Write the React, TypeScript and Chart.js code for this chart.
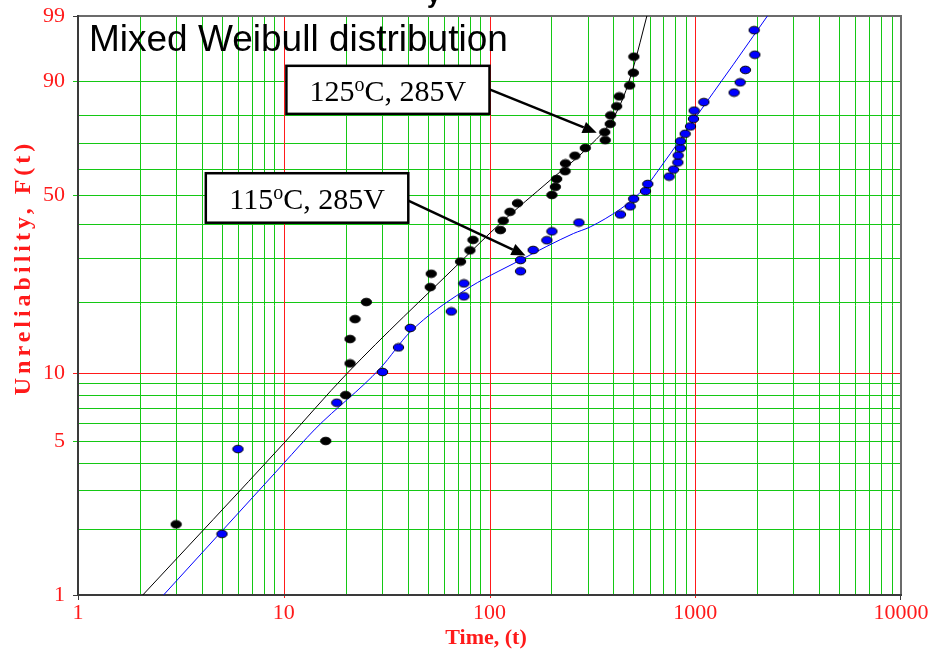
import React, { useEffect, useRef } from 'react';
import { Chart, registerables } from 'chart.js';

Chart.register(...registerables);

// ---------------- data ----------------
// 125°C, 285V – observed failures: time and unreliability (%)
const time125 = [3.0, 16.0, 20.0, 21.0, 21.0, 22.2, 25.2, 51.5, 52.1, 72.3, 80.3, 83.1, 113, 116.6, 125.7, 136.8, 201, 209, 212, 233, 234, 260, 292, 365, 363, 386, 388, 415, 427, 480, 500, 503];
const unrel125 = [2.1, 5.0, 8.0, 11.0, 14.0, 17.0, 20.0, 23.0, 26.0, 29.0, 32.0, 35.0, 38.0, 41.0, 44.0, 47.0, 50.0, 53.0, 56.0, 59.0, 62.0, 65.0, 68.0, 71.0, 74.0, 77.0, 80.0, 83.0, 86.0, 89.0, 92.0, 95.0];

// 115°C, 285V – observed failures
const time115 = [5.01, 5.99, 18.1, 30.2, 36.1, 41.2, 65.2, 75.1, 75.1, 141.5, 141.5, 163, 190, 201, 272, 433, 483, 502, 573, 588, 747, 784, 823, 826, 848, 848, 893, 948, 980, 988, 1101, 1545, 1653, 1753, 1948, 1933];
const unrel115 = [1.9, 4.6, 7.4, 10.1, 12.9, 15.6, 18.3, 21.1, 23.8, 26.6, 29.4, 32.1, 34.9, 37.6, 40.4, 43.1, 45.9, 48.6, 51.4, 54.1, 56.9, 59.6, 62.4, 65.1, 67.9, 70.6, 73.4, 76.1, 78.8, 81.6, 84.3, 87.1, 89.8, 92.6, 95.3, 98.1];

// fitted mixed-Weibull curves
const fitTime125 = [2.065, 10.0, 20.3, 72.0, 112.7, 197.2, 297.3, 393.3, 447.9, 500.8, 581.9];
const fitUnrel125 = [1.0, 4.88, 9.95, 28.84, 40.09, 55.51, 67.78, 78.3, 85.84, 93.17, 99.0];
const fitTime115 = [2.605, 10.0, 14.2, 29.4, 41.2, 74.7, 141.0, 256.0, 308.5, 431.7, 488.1, 583.9, 675.2, 844.6, 1010, 1222, 1528, 1911, 2243];
const fitUnrel115 = [1.0, 3.97, 5.65, 10.47, 15.02, 22.15, 29.36, 36.93, 38.99, 44.9, 47.91, 53.62, 60.32, 71.15, 79.51, 87.04, 93.59, 97.56, 99.0];

// axes
const xGridValues = [1, 2, 3, 4, 5, 6, 7, 8, 9, 10, 20, 30, 40, 50, 60, 70, 80, 90, 100, 200, 300, 400, 500, 600, 700, 800, 900, 1000, 2000, 3000, 4000, 5000, 6000, 7000, 8000, 9000, 10000];
const xTickLabels = ['1', '10', '100', '1000', '10000'];
const xRedLines = [10, 100, 1000];
const yGridValues = [1, 2, 3, 4, 5, 6, 7, 8, 9, 10, 20, 30, 40, 50, 60, 70, 80, 90, 99];
const yTickLabels = ['1', '5', '10', '50', '90', '99'];
const yRedLines = [10];

// texts
const headingText = 'Mixed Weibull distribution';
const label125 = ['125', 'o', 'C, 285V'];
const label115 = ['115', 'o', 'C, 285V'];
const yTitle = 'Unreliability, F(t)';
const xTitle = 'Time, (t)';
const clippedTitle = 'y';

// ---------------- helpers ----------------
const weib = (pct: number) => Math.log(-Math.log(1 - pct / 100));

const GREEN = '#14c814';
const RED = '#ff1a1a';
const FRAME = '#6b6b6b';
const AXIS = '#3a3a3a';
const SERIF = '"Liberation Serif", "Times New Roman", serif';
const SANS = '"Liberation Sans", Arial, sans-serif';

function makeDot(fill: string): HTMLCanvasElement {
  const c = document.createElement('canvas');
  c.width = 13;
  c.height = 10;
  const g = c.getContext('2d')!;
  g.beginPath();
  g.ellipse(6.5, 5, 5.2, 3.8, 0, 0, Math.PI * 2);
  g.fillStyle = fill;
  g.fill();
  g.lineWidth = 1;
  g.strokeStyle = '#000';
  g.stroke();
  return c;
}

function drawArrow(ctx: CanvasRenderingContext2D, x1: number, y1: number, x2: number, y2: number) {
  const ang = Math.atan2(y2 - y1, x2 - x1);
  const head = 14;
  const half = 6;
  const bx = x2 - head * Math.cos(ang);
  const by = y2 - head * Math.sin(ang);
  ctx.strokeStyle = '#000';
  ctx.fillStyle = '#000';
  ctx.lineWidth = 2.5;
  ctx.beginPath();
  ctx.moveTo(x1, y1);
  ctx.lineTo(bx, by);
  ctx.stroke();
  ctx.beginPath();
  ctx.moveTo(x2, y2);
  ctx.lineTo(bx + half * Math.sin(ang), by - half * Math.cos(ang));
  ctx.lineTo(bx - half * Math.sin(ang), by + half * Math.cos(ang));
  ctx.closePath();
  ctx.fill();
}

function drawCallout(
  ctx: CanvasRenderingContext2D,
  parts: string[],
  left: number, right: number, top: number, bottom: number,
  ax: number, ay: number, tx: number, ty: number
) {
  drawArrow(ctx, ax, ay, tx, ty);
  ctx.fillStyle = '#fff';
  ctx.fillRect(left, top, right - left, bottom - top);
  ctx.strokeStyle = '#000';
  ctx.lineWidth = 2.5;
  ctx.strokeRect(left, top, right - left, bottom - top);
  const big = `30px ${SERIF}`;
  const small = `20px ${SERIF}`;
  ctx.font = big;
  const w1 = ctx.measureText(parts[0]).width;
  const w3 = ctx.measureText(parts[2]).width;
  ctx.font = small;
  const w2 = ctx.measureText(parts[1]).width;
  let x = (left + right) / 2 - (w1 + w2 + w3) / 2;
  const base = top + 35.5;
  ctx.fillStyle = '#000';
  ctx.textAlign = 'left';
  ctx.textBaseline = 'alphabetic';
  ctx.font = big;
  ctx.fillText(parts[0], x, base);
  x += w1;
  ctx.font = small;
  ctx.fillText(parts[1], x, base - 10);
  x += w2;
  ctx.font = big;
  ctx.fillText(parts[2], x, base);
}

// grid, frame and tick marks, drawn from the scales
const gridPlugin = {
  id: 'probGrid',
  beforeDatasetsDraw(chart: any) {
    const { ctx, chartArea, scales } = chart;
    const { left, right, top, bottom } = chartArea;
    const px = (v: number) => Math.round(scales.x.getPixelForValue(v)) + 0.5;
    const py = (f: number) => Math.round(scales.y.getPixelForValue(weib(f))) + 0.5;
    const vline = (x: number, y0: number, y1: number) => {
      ctx.beginPath();
      ctx.moveTo(x, y0);
      ctx.lineTo(x, y1);
      ctx.stroke();
    };
    const hline = (y: number, x0: number, x1: number) => {
      ctx.beginPath();
      ctx.moveTo(x0, y);
      ctx.lineTo(x1, y);
      ctx.stroke();
    };
    const isEdgeX = (v: number) => v === xGridValues[0] || v === xGridValues[xGridValues.length - 1];
    const isEdgeY = (f: number) => f === yGridValues[0] || f === yGridValues[yGridValues.length - 1];
    ctx.save();
    ctx.lineWidth = 1;
    // green minor lines
    ctx.strokeStyle = GREEN;
    xGridValues.filter((v) => !isEdgeX(v) && !xRedLines.includes(v)).forEach((v) => vline(px(v), top, bottom));
    yGridValues.filter((f) => !isEdgeY(f) && !yRedLines.includes(f)).forEach((f) => hline(py(f), left, right));
    // green tick marks at labelled y values
    yGridValues
      .filter((f) => !isEdgeY(f) && !yRedLines.includes(f) && yTickLabels.includes(String(f)))
      .forEach((f) => hline(py(f), left - 5, left));
    // red decade lines
    ctx.strokeStyle = RED;
    xRedLines.forEach((v) => vline(px(v), top, bottom + 3));
    yRedLines.forEach((f) => hline(py(f), left - 5, right));
    // frame: top and right in grey
    ctx.strokeStyle = FRAME;
    ctx.lineWidth = 2;
    hline(Math.round(top), left, right + 1);
    vline(Math.round(right), top, bottom);
    // axes: left and bottom
    ctx.strokeStyle = AXIS;
    ctx.lineWidth = 2;
    vline(Math.round(left), top - 1, bottom + 1);
    hline(Math.round(bottom), left - 1, right + 1);
    // dark tick marks at the edges
    ctx.lineWidth = 1;
    hline(py(yGridValues[0]), left - 5, left);
    hline(Math.round(top) + 0.5, left - 5, left);
    vline(px(xGridValues[0]), bottom, bottom + 5);
    vline(Math.round(right) - 0.5, bottom, bottom + 5);
    ctx.restore();
  },
};

const overlayPlugin = {
  id: 'overlay',
  afterDraw(chart: any) {
    const { ctx, chartArea, scales } = chart;
    const X = (t: number) => scales.x.getPixelForValue(t);
    const Y = (f: number) => scales.y.getPixelForValue(weib(f));
    ctx.save();

    // heading inside plot
    ctx.fillStyle = '#000';
    ctx.font = `37px ${SANS}`;
    ctx.textAlign = 'left';
    ctx.textBaseline = 'alphabetic';
    ctx.fillText(headingText, chartArea.left + 11, chartArea.top + 35);

    // callouts (anchored in data coordinates)
    drawCallout(ctx, label125, X(10.3), X(100), Y(93.4), Y(80.5), X(100), Y(88.0), X(332), Y(73.8));
    drawCallout(ctx, label115, X(4.18), X(40.3), Y(58.2), Y(40.35), X(40.3), Y(47.9), X(149.6), Y(30.6));

    // y-axis title
    ctx.save();
    ctx.translate(24, 267.5);
    ctx.rotate(-Math.PI / 2);
    ctx.fillStyle = RED;
    ctx.font = `bold 24px ${SERIF}`;
    (ctx as any).letterSpacing = '4px';
    ctx.textAlign = 'center';
    ctx.textBaseline = 'middle';
    ctx.fillText(yTitle, 0, 0);
    ctx.restore();
    (ctx as any).letterSpacing = '0px';

    // x-axis title
    ctx.fillStyle = RED;
    ctx.font = `bold 22px ${SERIF}`;
    ctx.textAlign = 'center';
    ctx.textBaseline = 'alphabetic';
    ctx.fillText(xTitle, 486, 644);

    // clipped chart title remnant at the very top
    ctx.fillStyle = '#000';
    ctx.font = `bold 24px ${SANS}`;
    ctx.textAlign = 'left';
    ctx.fillText(clippedTitle, 427, 3);

    ctx.restore();
  },
};

export default function App() {
  const ref = useRef<HTMLCanvasElement>(null);

  useEffect(() => {
    const canvas = ref.current!;
    const blackDot = makeDot('#000000');
    const blueDot = makeDot('#0000ff');

    const toPts = (ts: number[], fs: number[]) => ts.map((t, i) => ({ x: t, y: weib(fs[i]) }));

    const yLabelFor = (f: number) => {
      const s = String(f);
      return yTickLabels.includes(s) ? s : '';
    };
    const xLabelFor = (v: number) => {
      const s = String(v);
      return xTickLabels.includes(s) ? s : '';
    };

    const chart = new Chart(canvas, {
      type: 'scatter',
      data: {
        datasets: [
          {
            label: '125 fit',
            data: toPts(fitTime125, fitUnrel125),
            showLine: true,
            borderColor: '#000',
            borderWidth: 1,
            pointRadius: 0,
            cubicInterpolationMode: 'monotone',
            order: 3,
          } as any,
          {
            label: '115 fit',
            data: toPts(fitTime115, fitUnrel115),
            showLine: true,
            borderColor: '#0000ff',
            borderWidth: 1,
            pointRadius: 0,
            cubicInterpolationMode: 'monotone',
            order: 3,
          } as any,
          {
            label: '125°C, 285V',
            data: toPts(time125, unrel125),
            pointStyle: blackDot,
            showLine: false,
            order: 1,
          } as any,
          {
            label: '115°C, 285V',
            data: toPts(time115, unrel115),
            pointStyle: blueDot,
            showLine: false,
            order: 1,
          } as any,
        ],
      },
      options: {
        responsive: false,
        animation: false,
        events: [],
        layout: { padding: { top: 16, right: 27, left: 0, bottom: 0 } },
        plugins: {
          legend: { display: false },
          tooltip: { enabled: false },
          title: { display: false },
        },
        scales: {
          x: {
            type: 'logarithmic',
            min: 1,
            max: 10000,
            afterBuildTicks: (scale: any) => {
              scale.ticks = xGridValues.map((v) => ({ value: v }));
            },
            afterFit: (scale: any) => {
              scale.height = 56;
              scale.paddingLeft = 0;
              scale.paddingRight = 0;
            },
            ticks: {
              autoSkip: false,
              maxRotation: 0,
              minRotation: 0,
              padding: 0,
              color: RED,
              font: { family: SERIF, size: 22 },
              major: { enabled: false },
              callback: (_v: any, i: number) => xLabelFor(xGridValues[i]),
            },
            grid: {
              display: true,
              drawOnChartArea: false,
              tickLength: 5,
              tickColor: 'rgba(0,0,0,0)',
              color: 'rgba(0,0,0,0)',
            },
            border: { display: false },
          },
          y: {
            type: 'linear',
            min: weib(1),
            max: weib(99),
            afterBuildTicks: (scale: any) => {
              scale.ticks = yGridValues.map((f) => ({ value: weib(f) }));
            },
            afterFit: (scale: any) => {
              scale.width = 78;
              scale.paddingTop = 0;
              scale.paddingBottom = 0;
            },
            ticks: {
              autoSkip: false,
              padding: 8,
              color: RED,
              font: { family: SERIF, size: 22 },
              callback: (_v: any, i: number) => yLabelFor(yGridValues[i]),
            },
            grid: {
              display: true,
              drawOnChartArea: false,
              tickLength: 5,
              tickColor: 'rgba(0,0,0,0)',
              color: 'rgba(0,0,0,0)',
            },
            border: { display: false },
          },
        },
      } as any,
      plugins: [gridPlugin, overlayPlugin],
    });
    return () => chart.destroy();
  }, []);

  return (
    <div style={{ position: 'fixed', left: 0, top: 0, width: 928, height: 651, background: '#fff' }}>
      <canvas ref={ref} width={928} height={651} style={{ width: '928px', height: '651px', display: 'block' }} />
    </div>
  );
}
